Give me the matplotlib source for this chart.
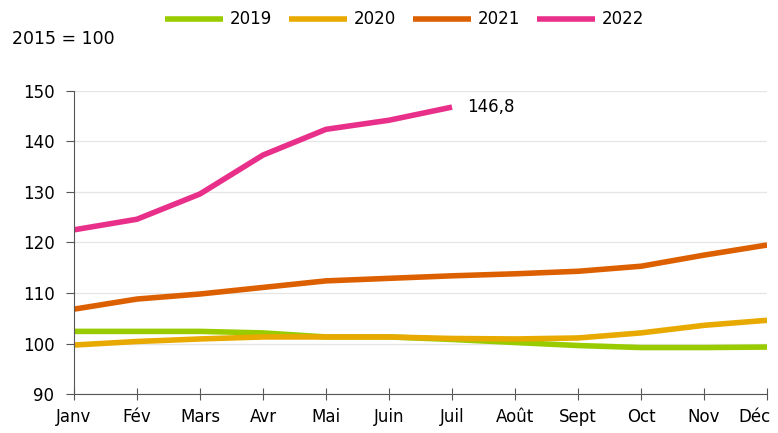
import matplotlib.pyplot as plt
from matplotlib.transforms import ScaledTranslation

# Monthly index values (2015 = 100)
months = ['Janv', 'Fév', 'Mars', 'Avr', 'Mai', 'Juin', 'Juil', 'Août', 'Sept', 'Oct', 'Nov', 'Déc']
v2019 = [102.4, 102.4, 102.4, 102.1, 101.3, 101.3, 100.8, 100.2, 99.6, 99.2, 99.2, 99.3]
v2020 = [99.7, 100.4, 100.9, 101.3, 101.3, 101.3, 101.0, 100.9, 101.1, 102.1, 103.6, 104.6]
v2021 = [106.8, 108.8, 109.8, 111.1, 112.4, 112.9, 113.4, 113.8, 114.3, 115.3, 117.5, 119.5]
v2022 = [122.5, 124.6, 129.6, 137.3, 142.4, 144.2, 146.8]

plt.rcParams['font.family'] = ['DejaVu Sans']
plt.rcParams['font.size'] = 12

fig = plt.figure(figsize=(7.78, 4.33), dpi=100)
ax = fig.add_axes([0.095, 0.09, 0.891, 0.70])

x = range(len(months))
ax.plot(x, v2019, color='#99CC00', lw=4, label='2019', solid_capstyle='butt')
ax.plot(x, v2020, color='#E8AA00', lw=4, label='2020', solid_capstyle='butt')
ax.plot(x, v2021, color='#DD6000', lw=4, label='2021', solid_capstyle='butt')
ax.plot(range(len(v2022)), v2022, color='#E8308A', lw=4, label='2022', solid_capstyle='butt')

ax.annotate('146,8', (len(v2022) - 1, v2022[-1]), xytext=(11, 0), textcoords='offset points',
            va='center', ha='left', fontsize=12)

ax.set_xlim(0, 11)
ax.set_ylim(90, 150)
ax.set_yticks(range(90, 151, 10))
ax.set_xticks(list(x))
ax.set_xticklabels(months)
ax.grid(axis='y', color='#E6E6E6', lw=1)
ax.set_axisbelow(True)
for s in ['top', 'right']:
    ax.spines[s].set_visible(False)
for s in ['left', 'bottom']:
    ax.spines[s].set_color('#555555')
ax.tick_params(axis='x', direction='inout', length=8, color='#555555', pad=6)
ax.tick_params(axis='y', direction='out', length=6, color='#555555', pad=8)

# last month label sits against the right edge, nudge it left so it stays visible
last = ax.get_xticklabels()[-1]
last.set_transform(last.get_transform() + ScaledTranslation(-9 / 72, 0, fig.dpi_scale_trans))

fig.text(0.015, 0.91, '2015 = 100', fontsize=12.5, va='center')
fig.legend(loc='center', bbox_to_anchor=(0.52, 0.955), ncol=4, frameon=False,
           handlelength=3.5, handletextpad=0.4, columnspacing=1.0, fontsize=12)

fig.savefig('out.png', dpi=100)
